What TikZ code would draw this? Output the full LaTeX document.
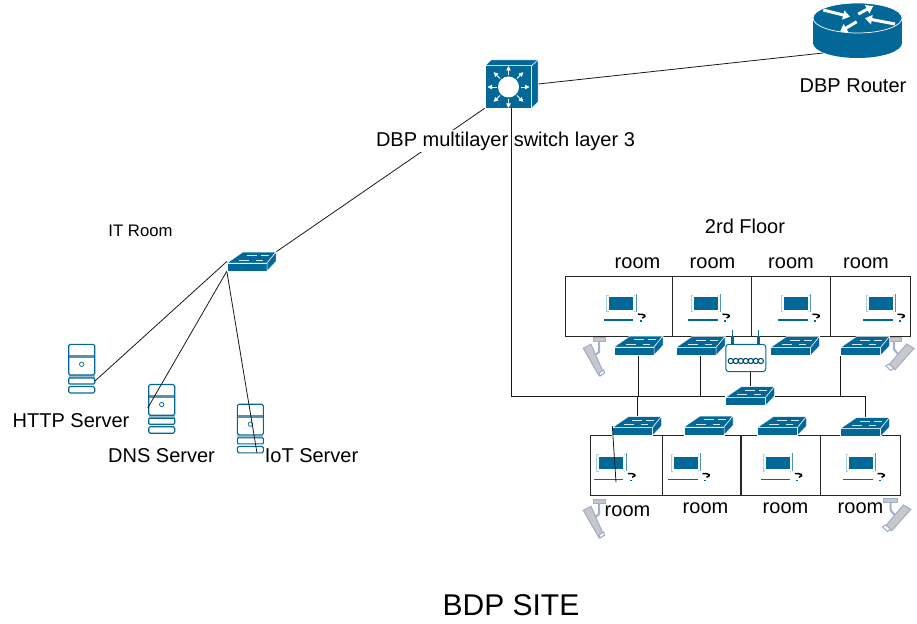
\documentclass[tikz,border=0pt]{standalone}
\usepackage{fontspec}
\setmainfont{Liberation Sans}
\usetikzlibrary{arrows.meta}
\definecolor{ciscoblue}{HTML}{036897}
\definecolor{bandblue}{HTML}{5A90A8}
\definecolor{paleblue}{HTML}{A9CFE0}
\definecolor{camgrey}{HTML}{C8C8C8}
\definecolor{camedge}{HTML}{9FAFCE}
\tikzset{
  lbl/.style={font=\fontsize{20}{24}\selectfont,inner sep=0pt},
  room/.style={draw=black!85,line width=1pt,minimum height=60pt,inner sep=0pt},
  iconsw/.style={minimum width=49pt,minimum height=19pt,inner sep=0pt},
  iconsrv/.style={minimum width=27pt,minimum height=49pt,inner sep=0pt},
  link/.style={draw=black!90,line width=0.8pt},
  lanswitch/.pic={
    \fill[ciscoblue,draw=white,line width=0.5pt] (-24.5,1.5) rectangle (15.5,9.5);
    \fill[ciscoblue,draw=white,line width=0.5pt] (-24.5,1.5) -- (-8.5,-9.5) -- (24.5,-9.5) -- (15.5,1.5) -- cycle;
    \fill[ciscoblue,draw=white,line width=0.5pt] (15.5,1.5) -- (24.5,-9.5) -- (24.5,0) -- (15.5,9.5) -- cycle;
    \draw[white!85!ciscoblue,line width=0.5pt] (-13,-1.5) -- (-3,-1.5) (-5,-6) -- (5,-6) (4,-1.5) -- (11,-1.5) (9,-6) -- (17,-6);
  },
  multilayer/.pic={
    \fill[ciscoblue,draw=white,line width=0.5pt] (-26.5,-18.3) rectangle (20.2,24);
    \fill[ciscoblue,draw=white,line width=0.5pt] (-26.5,-18.3) -- (-20.5,-24) -- (26.5,-24) -- (20.2,-18.3) -- cycle;
    \fill[ciscoblue,draw=white,line width=0.5pt] (20.2,-18.3) -- (26.5,-24) -- (26.5,18) -- (20.2,24) -- cycle;
    \fill[white] (-3,3) circle (10.5);
    \begin{scope}[shift={(-3,3)}]
      \foreach \a in {0,45,...,315}{\draw[white,line width=0.9pt,-{Triangle[width=4.5pt,length=4.5pt]}] (\a:12) -- (\a:21);}
    \end{scope}
  },
  wanrouter/.pic={
    \fill[ciscoblue] (-44.5,-12.5) rectangle (44.5,12.5);
    \fill[ciscoblue] (0,12.5) ellipse [x radius=44.5,y radius=15];
    \draw[white,fill=ciscoblue,line width=0.7pt] (0,-12.5) ellipse [x radius=44.5,y radius=15];
    \draw[white,line width=3pt,-{Triangle[width=9pt,length=7pt]}] (-34.2,-20.5) -- (-7.5,-13.8);
    \draw[white,line width=3pt,-{Triangle[width=9pt,length=7pt]}] (0.8,-16.5) -- (15.8,-24.5);
    \draw[white,line width=3pt,-{Triangle[width=9pt,length=7pt]}] (37.5,-6.5) -- (7.5,-12.2);
    \draw[white,line width=3pt,-{Triangle[width=9pt,length=7pt]}] (-0.8,-8.8) -- (-17.5,1.2);
  },
  srvbox/.pic={
    \fill[bandblue!60] (-13,6.2) rectangle (13,9.2);
    \fill[bandblue] (-13,-13.8) rectangle (13,-10.8);
    \draw[ciscoblue,line width=1.1pt,rounded corners=1.5pt] (-13,-24.5) rectangle (13,6.2);
    \draw[ciscoblue,line width=1.1pt,rounded corners=1pt] (-13,9.2) rectangle (13,15.2);
    \draw[ciscoblue,line width=1.1pt,rounded corners=1.5pt] (-13,17.7) rectangle (13,24.2);
    \draw[ciscoblue,line width=0.7pt] (0,-4.5) circle (2.2);
  },
  wifibox/.pic={
    \draw[ciscoblue,line width=1.2pt] (-13.5,-28) -- (-13.5,-22);
    \draw[ciscoblue,line width=2.6pt] (-13.5,-22) -- (-13.5,-13.7);
    \draw[ciscoblue,line width=1.2pt] (12.5,-28) -- (12.5,-22);
    \draw[ciscoblue,line width=2.6pt] (12.5,-22) -- (12.5,-13.7);
    \draw[ciscoblue,fill=white,line width=1pt,rounded corners=3pt] (-20,-13.7) rectangle (20,13.7);
    \foreach \x in {-15,-10,...,15}{\draw[ciscoblue!70!black,line width=1.1pt] (\x,3) circle (2.6);}
  },
  laptop/.pic={
    \draw[paleblue,line width=0.7pt] (2,0) -- (0,0) -- (0,16.7) -- (2,16.7) (27,0) -- (28,0) (27,16.7) -- (28,16.7);
    \draw[ciscoblue!70,line width=0.8pt] (29.3,-1) -- (29.3,17);
    \fill[ciscoblue] (2.6,2.3) rectangle (26.6,15);
    \draw[ciscoblue,line width=1.5pt] (-2.7,25) -- (26.6,25);
    \draw[black,line width=1.5pt] (31.5,19.2) .. controls (38,19) and (41,21) .. (35.5,23);
    \fill[ciscoblue] (33,25.2) rectangle (35,26.8);
  },
  camleft/.pic={
    \draw[camedge,line width=2pt] (0,4) -- (0,15) -- (-5,19);
    \draw[camedge,fill=camgrey,line width=0.6pt] (-5.5,0) rectangle (6,4);
    \draw[camedge,fill=camgrey,line width=1.1pt] (-15.7,11.3) -- (-8,7.3) -- (4.3,35.3) -- (0,38.7) -- cycle;
    \draw[camedge,fill=white,line width=1.1pt] (0,36) -- (4.5,33) -- (5.5,36) -- (1,39) -- cycle;
  },
  camright/.pic={
    \draw[camedge,line width=2pt] (0,4) -- (0,12) -- (5,18);
    \draw[camedge,fill=camgrey,line width=0.6pt] (-7,0) rectangle (7,4);
    \draw[camedge,fill=camgrey,line width=1.1pt] (12.8,7) -- (20.2,11.3) -- (1.2,32.7) -- (-5.5,28.7) -- cycle;
    \draw[camedge,fill=white,line width=1.1pt] (-8,29) -- (-5,27) -- (0,31) -- (-3,33.5) -- cycle;
  }
}
\begin{document}
\begin{tikzpicture}[x=1pt,y=-1pt]
\useasboundingbox (0,0) rectangle (917,623);
% rooms
\foreach \nm/\cx/\cy/\rw in {u1/619/306/106.6,u2/712/306/79.4,u3/791/306/78.6,u4/870.3/306/80,d1/626.7/465.3/72,d2/701.8/465.3/78.3,d3/780.7/465.3/79.3,d4/860.3/465.3/80}{
  \node[room,minimum width=\rw pt] (\nm) at (\cx,\cy) {};
}
\foreach \px/\py in {606.7/295,691/295,781/295,866/295,596.7/454.3,671/454.3,763.4/454.3,846/454.3}{
  \pic at (\px,\py) {laptop};
}
\pic at (599,337) {camleft};
\pic at (599,499) {camleft};
\pic at (893.8,337) {camright};
\pic at (890.5,498) {camright};
% icon nodes
\node[minimum width=53pt,minimum height=48pt,inner sep=0pt] (ml3) at (511.5,84) {};
\node[minimum width=89pt,minimum height=55pt,inner sep=0pt] (dbprouter) at (857.5,30.5) {};
\node[minimum width=40pt,minimum height=27.4pt,inner sep=0pt] (wifi) at (745.8,358) {};
\foreach \nm/\px/\py in {itsw/251.5/261.5,s1/638.5/345.5,s2/700.5/346,s3/795/346,s4/865/346,s0/750/396,l1/637/426,l2/708.5/425.5,l3/782/426,l4/865/427}{
  \node[iconsw] (\nm) at (\px,\py) {};
}
\node[iconsrv] (http) at (81.7,368.8) {};
\node[iconsrv] (dns) at (161.7,409) {};
\node[iconsrv] (iot) at (250.4,428.7) {};
\foreach \nm in {http,dns,iot}{\pic at (\nm) {srvbox};}
\coordinate (routerport) at (823,53);
\coordinate (httpport) at (95,381);
\coordinate (dnsport) at (147.7,408);
\coordinate (iotport) at (257,453);
\coordinate (roomport) at (616,482.3);
% links
\draw[link] (ml3.east) -- (routerport);
\draw[link] (ml3.south west) -- (itsw.north east);
\draw[link] (s0.east) -| (l4.north);
\draw[link] (itsw.west) -- (httpport);
\draw[link] (itsw.south west) -- (dnsport);
\draw[link] (itsw.south west) -- (iotport);
\foreach \s in {s1,s2}{\draw[link] (\s.south) -- (\s.south |- s0.west);}
\draw[link] (s4.south west) -- (s4.south west |- s0.west);
\draw[link] (l1.north) -- (l1.north |- s0.west);
\draw[link] (s0.north) -- (s0.north |- wifi.south);
% icons
\pic at (ml3) {multilayer};
\pic at (dbprouter) {wanrouter};
\pic at (wifi) {wifibox};
\foreach \nm in {itsw,s1,s2,s3,s4,s0,l1,l2,l3,l4}{\pic at (\nm) {lanswitch};}
\draw[link] (l1.west) -- (roomport);
% labels
\node[lbl,fill=white,inner ysep=2pt] (mllabel) at (505.5,141) {DBP multilayer switch layer 3};
\draw[link] (ml3.south) |- (s0.west);
\node[lbl] (routerlabel) at (853,86) {DBP Router};
\node[lbl] (floorlabel) at (745,226) {2rd Floor};
\node[lbl,font=\fontsize{16.7}{20}\selectfont] (itlabel) at (140.5,231) {IT Room};
\node[lbl] (httplabel) at (71,421) {HTTP Server};
\node[lbl] (dnslabel) at (161.5,456) {DNS Server};
\node[lbl] (iotlabel) at (311.5,456) {IoT Server};
\foreach \nm/\px/\py in {ru1/637.5/263.5,ru2/712.5/263.5,ru3/791/263.5,ru4/866/263.5,rd1/627.5/511,rd2/705.5/508,rd3/785.5/508,rd4/860.5/508}{
  \node[lbl] (\nm) at (\px,\py) {room};
}
\node[lbl,font=\fontsize{30}{36}\selectfont] (sitelabel) at (511,605) {BDP SITE};
\end{tikzpicture}
\end{document}
